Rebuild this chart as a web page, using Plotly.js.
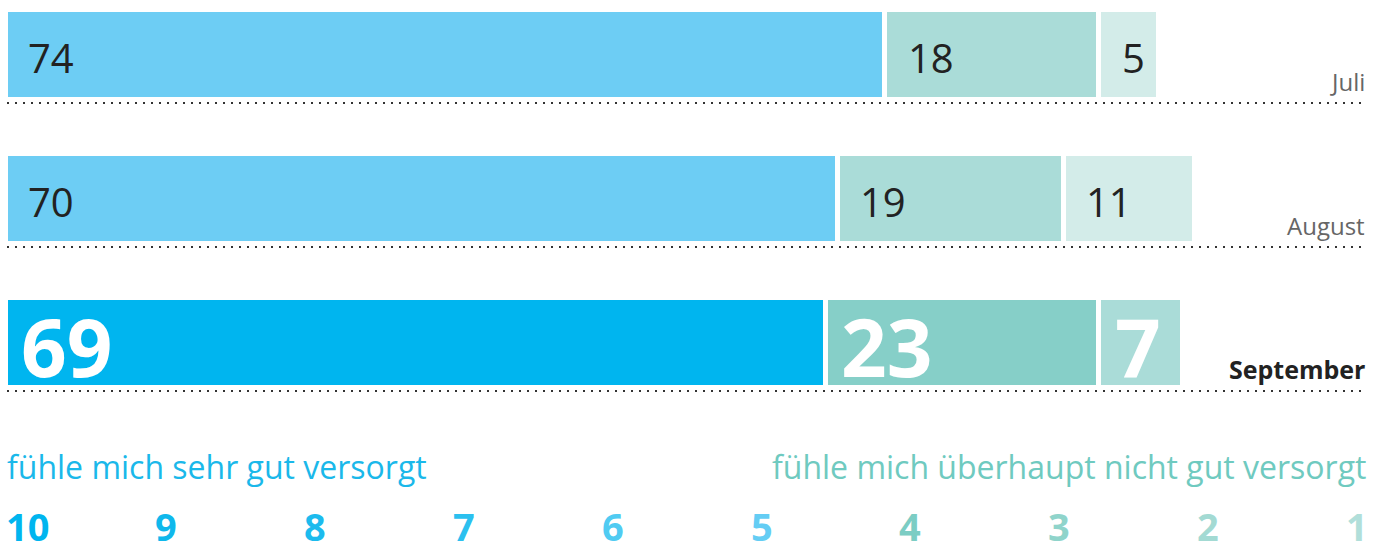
<!DOCTYPE html>
<html><head><meta charset="utf-8">
<script src="https://cdn.plot.ly/plotly-3.0.1.min.js"></script>
<style>body{margin:0;background:#fff}#chart{width:1384px;height:554px}</style>
</head><body><div id="chart"></div>
<script>
const months = ["Juli", "August", "September"];
const sehrGut = [74, 70, 69];
const mittel = [18, 19, 23];
const nichtGut = [5, 11, 7];
const scaleLabels = ["10", "9", "8", "7", "6", "5", "4", "3", "2", "1"];
const leftLabel = "fühle mich sehr gut versorgt";
const rightLabel = "fühle mich überhaupt nicht gut versorgt";

const scaleColors = ["#00b5ef", "#0fb8ec", "#1cbbee", "#2bc0ef", "#50cbf2", "#64cdf4", "#7ccdc4", "#8fd4cb", "#a3dad3", "#b1dfda"];
const segColors = [
  ["#6dcdf4", "#6dcdf4", "#00b5ef"],
  ["#aadcd8", "#aadcd8", "#86cfc8"],
  ["#d3ece9", "#d3ece9", "#aadcd8"]
];
const FONT = "Open Sans, sans-serif";
const L = 5, W = 1384, H = 554;
const pxPerUnit = 11.89;
const plotW = W - L;
const yIdx = months.map((m, i) => i);
const last = months.length - 1;

const series = [sehrGut, mittel, nichtGut];
const traces = series.map((vals, s) => ({
  type: "bar", orientation: "h", x: vals, y: yIdx,
  width: 0.625,
  marker: { color: segColors[s], line: { color: "#fff", width: 5 } },
  hoverinfo: "skip", showlegend: false
}));

const annotations = [];
const shapes = [];
months.forEach((m, i) => {
  let base = 0;
  series.forEach((vals, s) => {
    const bold = i === last;
    annotations.push({
      x: base, y: i, xref: "x", yref: "y", xanchor: "left", yanchor: "middle",
      xshift: bold ? 14 : 21, yshift: -3,
      text: bold ? "<b>" + vals[i] + "</b>" : String(vals[i]),
      showarrow: false,
      font: { family: FONT, size: bold ? 80 : 40, color: bold ? "#ffffff" : "#222222" }
    });
    base += vals[i];
  });
  annotations.push({
    x: 1, y: i + 0.19, xref: "paper", yref: "y", xanchor: "right", yanchor: "middle",
    xshift: -17, text: i === last ? "<b>" + m + "</b>" : m, showarrow: false,
    font: { family: FONT, size: i === last ? 25 : 24, color: i === last ? "#222222" : "#666666" }
  });
  shapes.push({
    type: "line", xref: "paper", yref: "y",
    x0: 2 / plotW, x1: (1367 - L) / plotW, y0: i + 0.34, y1: i + 0.34,
    line: { color: "#333333", width: 2, dash: "2px,6px" }
  });
});

annotations.push({
  x: (5 - L) / plotW, y: 1 - 466 / H, xref: "paper", yref: "paper", xanchor: "left", yanchor: "middle",
  text: leftLabel, showarrow: false, font: { family: FONT, size: 32, color: "#1ab8ea" }
});
annotations.push({
  x: 1, y: 1 - 466 / H, xref: "paper", yref: "paper", xanchor: "right", yanchor: "middle", xshift: -16,
  text: rightLabel, showarrow: false, font: { family: FONT, size: 32, color: "#6fcac0" }
});
scaleLabels.forEach((t, k) => {
  annotations.push({
    x: (4 + 148.9 * k - L) / plotW, y: 0, xref: "paper", yref: "paper",
    xanchor: "left", yanchor: "bottom",
    text: "<b>" + t + "</b>", showarrow: false,
    font: { family: FONT, size: 38, color: scaleColors[k] }
  });
});

const layout = {
  width: W, height: H, barmode: "stack",
  margin: { l: L, r: 0, t: 0, b: 0, pad: 0 },
  paper_bgcolor: "#fff", plot_bgcolor: "#fff",
  xaxis: { range: [0, plotW / pxPerUnit], visible: false, fixedrange: true },
  yaxis: { range: [(H - 54) / 144, -54 / 144], visible: false, fixedrange: true },
  annotations, shapes, showlegend: false
};
Plotly.newPlot("chart", traces, layout, { displayModeBar: false, staticPlot: true });
</script></body></html>
